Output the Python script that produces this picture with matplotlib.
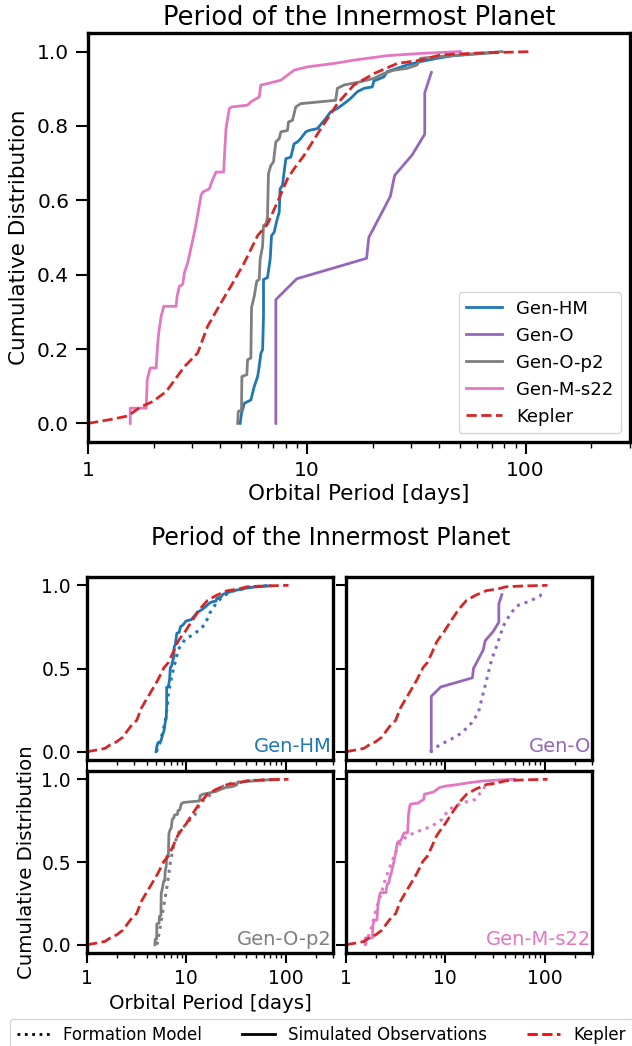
import numpy as np
import matplotlib
matplotlib.use('Agg')
import matplotlib.pyplot as plt
from matplotlib import ticker
from matplotlib.lines import Line2D

# periods [days] and cumulative fraction
kepler_p = [1.0, 1.28, 1.52, 1.75, 1.98, 2.28, 2.76, 3.17, 3.52, 4.05, 4.50, 5.18, 5.96, 6.61,
            7.34, 8.16, 8.75, 9.72, 11.6, 13.8, 16.4, 20.3, 25.9, 33.1, 40.8, 60.0, 107.0]
kepler_f = [0.0, 0.011, 0.020, 0.045, 0.059, 0.086, 0.153, 0.189, 0.261, 0.324, 0.369, 0.432,
            0.505, 0.536, 0.595, 0.658, 0.685, 0.721, 0.793, 0.860, 0.910, 0.941, 0.968, 0.977,
            0.991, 0.996, 1.0]

# simulated observations
hm_p = [4.96, 5.03, 5.18, 5.55, 5.75, 5.96, 6.06, 6.17, 6.28, 6.34, 6.34, 6.61, 6.80, 6.90, 7.09,
        7.29, 7.48, 7.55, 7.74, 8.02, 8.45, 8.75, 9.06, 9.38, 9.89, 10.24, 11.18, 12.2, 12.86,
        13.79, 14.79, 15.86, 17.01, 18.24, 19.91, 20.26, 22.5, 23.3, 25.9, 28.7, 33.1, 39.4,
        46.9, 70.0]
hm_f = [0.0, 0.027, 0.054, 0.063, 0.099, 0.126, 0.153, 0.189, 0.198, 0.288, 0.387, 0.392, 0.441,
        0.505, 0.514, 0.545, 0.568, 0.631, 0.640, 0.712, 0.716, 0.752, 0.757, 0.766, 0.784,
        0.788, 0.793, 0.820, 0.838, 0.847, 0.860, 0.874, 0.892, 0.901, 0.905, 0.921, 0.932,
        0.946, 0.955, 0.964, 0.973, 0.982, 0.989, 0.997]

o_p = [7.22, 7.22, 9.0, 18.76, 19.2, 24.1, 25.2, 30.3, 34.6, 34.6, 37.1]
o_f = [0.0, 0.333, 0.389, 0.444, 0.5, 0.611, 0.667, 0.722, 0.778, 0.889, 0.944]

op2_p = [4.83, 4.86, 5.03, 5.05, 5.32, 5.36, 5.55, 5.59, 5.75, 5.91, 6.06, 6.12, 6.28, 6.34, 6.50,
         6.61, 6.68, 6.85, 7.04, 7.22, 7.48, 7.61, 8.16, 8.25, 8.60, 8.90, 9.38, 13.55, 13.79,
         14.79, 17.62, 20.26, 22.5, 25.0, 28.7, 31.9, 33.1, 39.4, 78.0]
op2_f = [0.0, 0.032, 0.036, 0.126, 0.131, 0.171, 0.176, 0.311, 0.342, 0.383, 0.387, 0.441, 0.477,
         0.532, 0.536, 0.554, 0.671, 0.694, 0.703, 0.757, 0.766, 0.784, 0.788, 0.811, 0.815,
         0.851, 0.860, 0.869, 0.901, 0.910, 0.919, 0.928, 0.941, 0.950, 0.955, 0.964, 0.982,
         0.986, 1.0]

ms22_p = [1.56, 1.56, 1.845, 1.864, 1.924, 2.049, 2.063, 2.10, 2.159, 2.22, 2.527, 2.554, 2.617,
          2.71, 2.758, 2.856, 2.958, 3.042, 3.117, 3.286, 3.344, 3.585, 3.675, 3.846, 4.169, 4.198,
          4.272, 4.424, 4.533, 5.362, 5.553, 6.061, 6.166, 6.613, 7.606, 8.75, 10.06, 13.31,
          16.42, 23.3, 33.1, 50.3]
ms22_f = [0.0, 0.041, 0.041, 0.117, 0.149, 0.149, 0.180, 0.239, 0.288, 0.315, 0.315, 0.342,
          0.369, 0.374, 0.405, 0.432, 0.473, 0.505, 0.536, 0.613, 0.622, 0.631, 0.649, 0.676,
          0.676, 0.712, 0.793, 0.847, 0.851, 0.856, 0.865, 0.878, 0.910, 0.914, 0.923, 0.950,
          0.959, 0.968, 0.977, 0.989, 0.995, 1.0]

# formation model (dotted)
hm_mod_p = [5.0, 5.4, 5.8, 6.2, 6.45, 6.6, 7.0, 7.4, 8.3, 9.7, 11.8, 13.7, 15.4, 17.3, 20.2,
            23.6, 29.7, 45.0, 70.0]
hm_mod_f = [0.0, 0.05, 0.12, 0.20, 0.28, 0.353, 0.43, 0.494, 0.614, 0.675, 0.705, 0.735, 0.765,
            0.835, 0.896, 0.936, 0.966, 0.99, 1.0]

o_mod_p = [7.0, 8.85, 11.2, 14.6, 18.4, 21.5, 23.2, 25.1, 27.1, 29.3, 32.9, 35.5, 38.4, 44.8,
           52.3, 71.3, 89.9, 97.0]
o_mod_f = [0.0, 0.042, 0.072, 0.112, 0.173, 0.233, 0.313, 0.394, 0.474, 0.554, 0.635, 0.695,
           0.755, 0.825, 0.876, 0.906, 0.936, 0.966]

op2_mod_p = [5.07, 5.48, 5.92, 6.25, 6.55, 6.9, 7.46, 8.37, 10.2, 12.3, 13.8, 16.8, 21.2, 28.8,
             49.6, 90.0]
op2_mod_f = [0.0, 0.114, 0.235, 0.315, 0.396, 0.496, 0.596, 0.677, 0.737, 0.787, 0.857, 0.898,
             0.948, 0.978, 0.994, 1.0]

ms22_mod_p = [1.57, 1.83, 1.97, 2.22, 2.49, 2.79, 3.14, 3.52, 4.11, 5.39, 7.34, 9.27, 10.8, 14.7,
              20.0, 22.5, 25.3, 34.4, 50.7]
ms22_mod_f = [0.0, 0.114, 0.195, 0.295, 0.396, 0.476, 0.556, 0.616, 0.657, 0.687, 0.717, 0.757,
              0.817, 0.857, 0.878, 0.918, 0.958, 0.988, 0.998]

names = ['Gen-HM', 'Gen-O', 'Gen-O-p2', 'Gen-M-s22']
colors = ['#1f77b4', '#9467bd', '#7f7f7f', '#e377c2']
obs = [(hm_p, hm_f), (o_p, o_f), (op2_p, op2_f), (ms22_p, ms22_f)]
mods = [(hm_mod_p, hm_mod_f), (o_mod_p, o_mod_f), (op2_mod_p, op2_mod_f), (ms22_mod_p, ms22_mod_f)]
kep_c = '#d62728'

W, H = 632, 1046
fig = plt.figure(figsize=(W / 100, H / 100), dpi=100)


def style(ax, yt, lsize, tlen, pad):
    ax.set_xscale('log')
    ax.set_xlim(1, 300)
    ax.set_ylim(-0.05, 1.05)
    ax.xaxis.set_major_locator(ticker.FixedLocator([1, 10, 100]))
    ax.xaxis.set_major_formatter(ticker.FuncFormatter(lambda v, _: '%g' % v))
    ax.xaxis.set_minor_locator(ticker.LogLocator(subs=np.arange(2, 10)))
    ax.xaxis.set_minor_formatter(ticker.NullFormatter())
    ax.set_yticks(yt)
    for s in ax.spines.values():
        s.set_linewidth(2.4)
    ax.tick_params(which='major', length=tlen, width=1.5, labelsize=lsize, pad=pad,
                   direction='out')
    ax.tick_params(which='minor', length=tlen / 2, width=1.0, direction='out')


def box(l, t, r, b):
    return fig.add_axes([l / W, (H - b) / H, (r - l) / W, (b - t) / H])


# top panel
ax = box(88, 33, 630, 442)
for (p, f), c, n in zip(obs, colors, names):
    ax.plot(p, f, color=c, lw=2, label=n)
ax.plot(kepler_p, kepler_f, '--', color=kep_c, lw=2, label='Kepler')
style(ax, [0, 0.2, 0.4, 0.6, 0.8, 1.0], 14.5, 8.5, 5)
ax.set_title('Period of the Innermost Planet', fontsize=18.5)
ax.set_xlabel('Orbital Period [days]', fontsize=15.5, labelpad=3)
ax.set_ylabel('Cumulative Distribution', fontsize=15.5, labelpad=6)
ax.legend(loc='lower right', fontsize=13)

# bottom grid
pos = [(87, 577, 333, 760), (346, 577, 592, 760), (87, 771, 333, 953), (346, 771, 592, 953)]
for i, (l, t, r, b) in enumerate(pos):
    a = box(l, t, r, b)
    p, f = obs[i]
    mp, mf = mods[i]
    a.plot(mp, mf, ':', color=colors[i], lw=2.2)
    a.plot(p, f, '-', color=colors[i], lw=2)
    a.plot(kepler_p, kepler_f, '--', color=kep_c, lw=2)
    style(a, [0, 0.5, 1.0], 13.5, 7.5, 4)
    a.text(0.995, 0.02, names[i], transform=a.transAxes, ha='right', va='bottom',
           color=colors[i], fontsize=14)
    if i < 2:
        a.tick_params(labelbottom=False)
    if i % 2 == 1:
        a.tick_params(labelleft=False)
    if i == 2:
        a.set_xlabel('Orbital Period [days]', fontsize=14.2)
        a.set_ylabel('Cumulative Distribution', fontsize=14.2)

fig.text(0.524, 1 - 538 / H, 'Period of the Innermost Planet', ha='center', va='center',
         fontsize=17)

handles = [Line2D([], [], ls=':', color='k', lw=2),
           Line2D([], [], ls='-', color='k', lw=2),
           Line2D([], [], ls='--', color='r', lw=2)]
fig.legend(handles, ['Formation Model', 'Simulated Observations', 'Kepler'],
           loc='upper left', bbox_to_anchor=(10 / W, 0.0, 0.985, 1 - 1019 / H),
           mode='expand', ncol=3, fontsize=12, borderaxespad=0)

fig.savefig('out.png', dpi=100)
